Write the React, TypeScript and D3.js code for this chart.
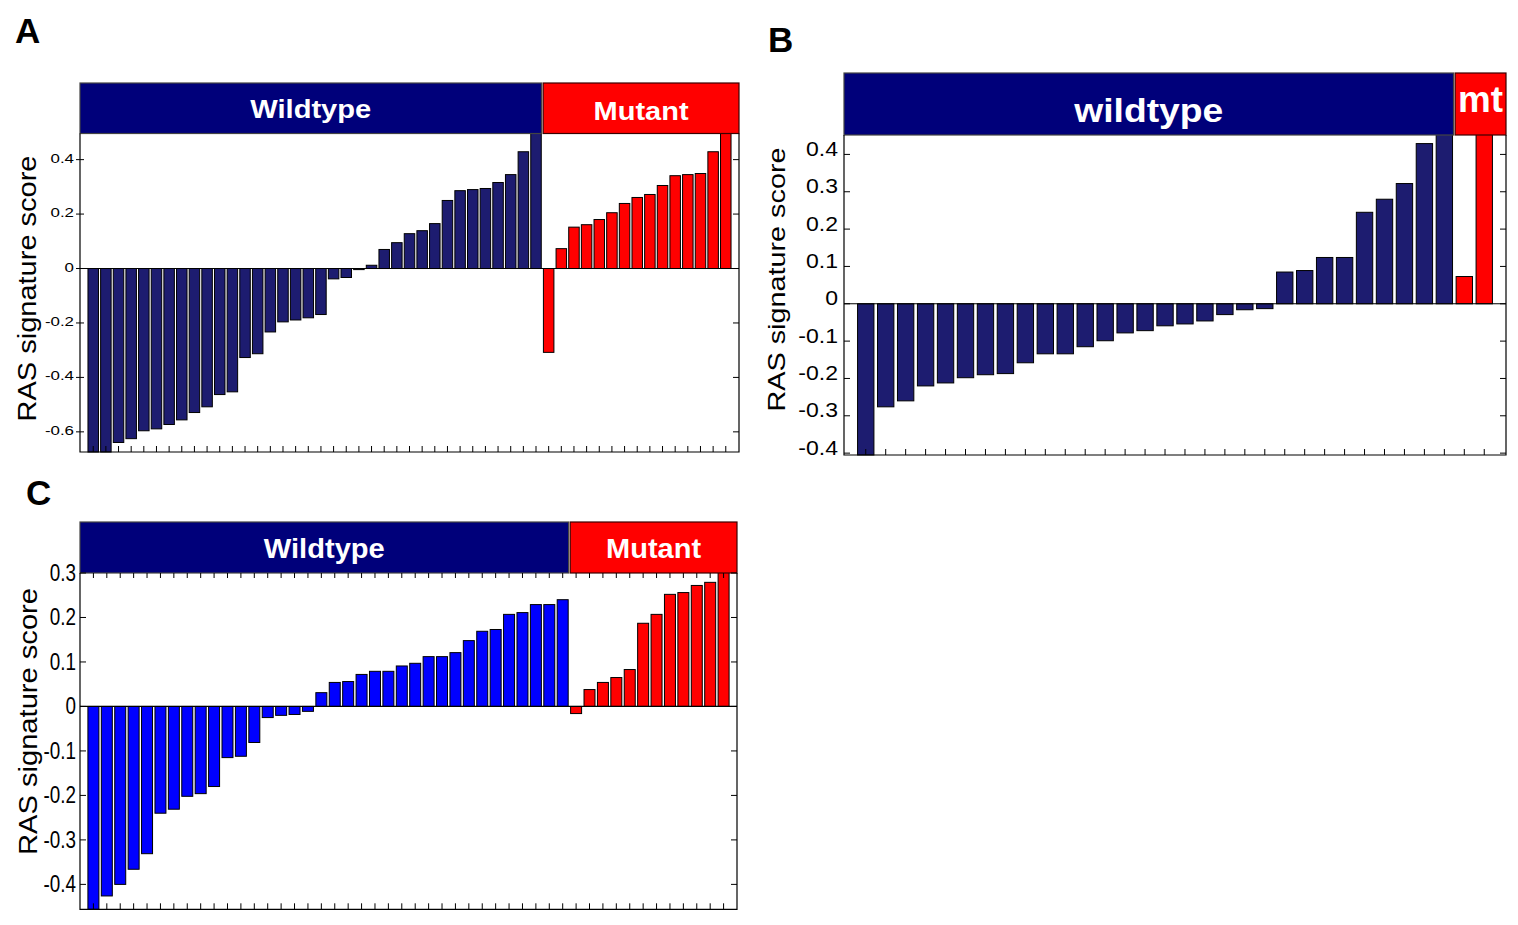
import { scaleBand, scaleLinear } from "d3";

// RAS signature scores per sample, sorted within each group
const aWildtype = [
  -0.68, -0.675, -0.639, -0.625, -0.596, -0.589, -0.573, -0.556, -0.529, -0.508, -0.463, -0.453,
  -0.327, -0.313, -0.233, -0.196, -0.189, -0.181, -0.169, -0.038, -0.033, -0.004, 0.012, 0.07,
  0.095, 0.128, 0.139, 0.165, 0.25, 0.286, 0.29, 0.294, 0.316, 0.345, 0.429, 0.545,
];
const aMutant = [-0.308, 0.073, 0.152, 0.161, 0.18, 0.205, 0.239, 0.261, 0.272, 0.305, 0.341, 0.345, 0.349, 0.429, 0.545];

const bWildtype = [
  -0.41, -0.276, -0.26, -0.22, -0.212, -0.198, -0.19, -0.187, -0.158, -0.134, -0.134, -0.115,
  -0.099, -0.078, -0.072, -0.059, -0.054, -0.046, -0.029, -0.016, -0.013, 0.085, 0.089, 0.124,
  0.124, 0.245, 0.28, 0.322, 0.429, 0.47,
];
const bMutant = [0.073, 0.47];

const cWildtype = [
  -0.46, -0.426, -0.4, -0.366, -0.331, -0.24, -0.231, -0.202, -0.196, -0.18, -0.115, -0.112,
  -0.081, -0.025, -0.02, -0.018, -0.011, 0.031, 0.054, 0.056, 0.072, 0.079, 0.079, 0.091,
  0.097, 0.112, 0.112, 0.121, 0.148, 0.169, 0.173, 0.207, 0.211, 0.229, 0.229, 0.24,
];
const cMutant = [-0.016, 0.038, 0.054, 0.065, 0.083, 0.187, 0.207, 0.252, 0.256, 0.272, 0.279, 0.31];

const aTicks = [0.4, 0.2, 0, -0.2, -0.4, -0.6];
const bTicks = [0.4, 0.3, 0.2, 0.1, 0, -0.1, -0.2, -0.3, -0.4];
const cTicks = [0.3, 0.2, 0.1, 0, -0.1, -0.2, -0.3, -0.4];

const groupLabels = { a: ["Wildtype", "Mutant"], b: ["wildtype", "mt"], c: ["Wildtype", "Mutant"] };
const axisTitle = "RAS signature score";

const FONT = "'Liberation Sans', Arial, sans-serif";
const NAVY = "#00007a";
const RED = "#ff0000";

type PanelProps = {
  letter: string;
  letterX: number;
  letterY: number;
  wildtype: number[];
  mutant: number[];
  ticks: number[];
  labels: string[];
  left: number;
  right: number;
  top: number;
  bottom: number;
  headerTop: number;
  domain: [number, number];
  padInner: number;
  padOuter: number;
  wtColor: string;
  tickFont: number;
  tickScale: number;
  tickShift: number;
  tickLabelX: number;
  leftTick: [number, number];
  topTicks: boolean;
  headerFont: number[];
  headerWidth: number[];
  headerBaseline: number[];
  titleX: number;
  titleY: number;
  titleFont: number;
  titleLength: number;
};

function Panel(p: PanelProps) {
  const values = [...p.wildtype, ...p.mutant];
  const nW = p.wildtype.length;

  const x = scaleBand<number>()
    .domain(values.map((_, i) => i))
    .range([p.left, p.right])
    .paddingInner(p.padInner)
    .paddingOuter(p.padOuter);
  const bw = x.bandwidth();

  const y = scaleLinear().domain(p.domain).range([p.bottom, p.top]);
  const y0 = y(0);

  const split = ((x(nW - 1) ?? 0) + bw + (x(nW) ?? 0)) / 2;
  const boxes = [
    { x0: p.left, x1: split - 0.8, fill: NAVY, stroke: "#444" },
    { x0: split + 0.8, x1: p.right, fill: RED, stroke: "#3a0000" },
  ];

  return (
    <g>
      <text x={p.letterX} y={p.letterY} fontFamily={FONT} fontWeight="bold" fontSize={35}>
        {p.letter}
      </text>

      {values.map((v, i) => {
        // bars above the top run under the header boxes
        const yv = Math.min(p.bottom, Math.max(p.headerTop + 10, y(v)));
        return (
          <rect
            key={i}
            x={x(i)}
            y={Math.min(y0, yv)}
            width={bw}
            height={Math.abs(y0 - yv)}
            fill={i < nW ? p.wtColor : RED}
            stroke="#000"
            strokeWidth={1}
          />
        );
      })}

      {boxes.map((b, i) => (
        <rect
          key={i}
          x={b.x0}
          y={p.headerTop}
          width={b.x1 - b.x0}
          height={p.top - p.headerTop}
          fill={b.fill}
          stroke={b.stroke}
          strokeWidth={1.2}
        />
      ))}

      {/* frame */}
      <path
        d={`M${p.left},${p.top} V${p.bottom} H${p.right} V${p.top}`}
        fill="none"
        stroke="#000"
        strokeWidth={1.2}
      />
      <line x1={p.left} x2={p.right} y1={y0} y2={y0} stroke="#000" strokeWidth={1.2} />

      {/* x ticks at bar centres */}
      {values.map((_, i) => {
        const cx = (x(i) ?? 0) + bw / 2;
        return (
          <g key={i}>
            <line x1={cx} x2={cx} y1={p.bottom} y2={p.bottom - 6} stroke="#000" />
            {p.topTicks ? <line x1={cx} x2={cx} y1={p.top} y2={p.top + 5} stroke="#000" /> : null}
          </g>
        );
      })}

      {/* y ticks */}
      {p.ticks.map((t) => {
        const ty = y(t);
        return (
          <g key={t}>
            <line x1={p.left + p.leftTick[0]} x2={p.left + p.leftTick[1]} y1={ty} y2={ty} stroke="#000" />
            <line x1={p.right - 6} x2={p.right} y1={ty} y2={ty} stroke="#000" />
            <text
              transform={`translate(${p.tickLabelX},${ty + p.tickShift}) scale(${p.tickScale},1)`}
              textAnchor="end"
              fontFamily={FONT}
              fontSize={p.tickFont}
            >
              {String(t)}
            </text>
          </g>
        );
      })}

      {boxes.map((b, i) => (
        <text
          key={i}
          x={(b.x0 + b.x1) / 2}
          y={p.headerBaseline[i]}
          textAnchor="middle"
          fill="#fff"
          fontFamily={FONT}
          fontWeight="bold"
          fontSize={p.headerFont[i]}
          textLength={p.headerWidth[i]}
          lengthAdjust="spacingAndGlyphs"
        >
          {p.labels[i]}
        </text>
      ))}

      <text
        transform={`translate(${p.titleX},${p.titleY}) rotate(-90)`}
        textAnchor="middle"
        fontFamily={FONT}
        fontSize={p.titleFont}
        textLength={p.titleLength}
        lengthAdjust="spacingAndGlyphs"
      >
        {axisTitle}
      </text>
    </g>
  );
}

export default function App() {
  return (
    <svg
      width={1518}
      height={925}
      style={{ position: "absolute", left: 0, top: 0, background: "#fff" }}
    >
      <rect width={1518} height={925} fill="#fff" />
      <Panel
        letter="A"
        letterX={15}
        letterY={43}
        wildtype={aWildtype}
        mutant={aMutant}
        ticks={aTicks}
        labels={groupLabels.a}
        left={80}
        right={739}
        top={133.5}
        bottom={452}
        headerTop={83}
        domain={[-0.674, 0.496]}
        padInner={0.17}
        padOuter={0.63}
        wtColor="#1d1c70"
        tickFont={13}
        tickScale={1.3}
        tickShift={3}
        tickLabelX={74}
        leftTick={[-4, 4]}
        topTicks={false}
        headerFont={[25, 25]}
        headerWidth={[121, 95]}
        headerBaseline={[118, 119.5]}
        titleX={36}
        titleY={288.5}
        titleFont={25}
        titleLength={266}
      />
      <Panel
        letter="B"
        letterX={768}
        letterY={52}
        wildtype={bWildtype}
        mutant={bMutant}
        ticks={bTicks}
        labels={groupLabels.b}
        left={844}
        right={1506}
        top={135}
        bottom={455}
        headerTop={73}
        domain={[-0.405, 0.452]}
        padInner={0.18}
        padOuter={0.68}
        wtColor="#1d1c70"
        tickFont={19.5}
        tickScale={1.18}
        tickShift={1.5}
        tickLabelX={838}
        leftTick={[0, 6]}
        topTicks={false}
        headerFont={[34, 36]}
        headerWidth={[149, 45]}
        headerBaseline={[121.5, 111.5]}
        titleX={785}
        titleY={279.5}
        titleFont={24}
        titleLength={264}
      />
      <Panel
        letter="C"
        letterX={26}
        letterY={505}
        wildtype={cWildtype}
        mutant={cMutant}
        ticks={cTicks}
        labels={groupLabels.c}
        left={80}
        right={737}
        top={573}
        bottom={909.3}
        headerTop={522}
        domain={[-0.456, 0.3]}
        padInner={0.18}
        padOuter={0.59}
        wtColor="#0000ff"
        tickFont={23}
        tickScale={0.82}
        tickShift={8}
        tickLabelX={76}
        leftTick={[0, 6]}
        topTicks={true}
        headerFont={[28, 28]}
        headerWidth={[121, 95]}
        headerBaseline={[557.5, 558]}
        titleX={37}
        titleY={721.5}
        titleFont={25}
        titleLength={267}
      />
    </svg>
  );
}
